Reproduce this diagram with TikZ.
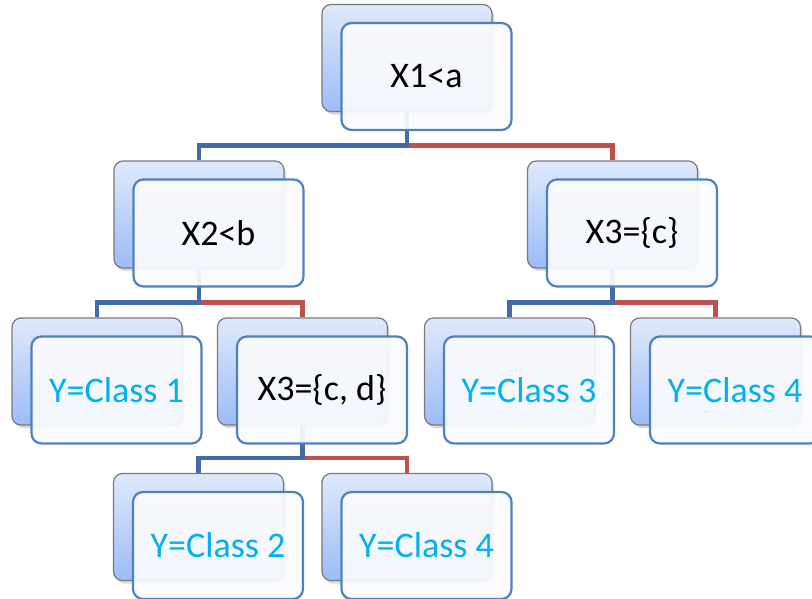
\documentclass[tikz,border=0pt]{standalone}
\usepackage{fontspec}
\setmainfont{Carlito}
\usetikzlibrary{calc,shadows}
\pgfdeclarelayer{background}
\pgfsetlayers{background,main}
\definecolor{lineblue}{RGB}{68,106,168}
\definecolor{linered}{RGB}{192,80,77}
\definecolor{frontborder}{RGB}{79,129,189}
\definecolor{frontfill}{RGB}{250,251,254}
\definecolor{backtop}{RGB}{224,233,251}
\definecolor{backbot}{RGB}{156,188,247}
\definecolor{backborder}{RGB}{122,122,122}
\definecolor{classcyan}{RGB}{0,176,240}
\tikzset{
  backbox/.style={rectangle, rounded corners=9pt, minimum width=170pt, minimum height=107pt,
    inner sep=0pt, draw=backborder, line width=1.2pt, top color=backtop, bottom color=backbot,
    drop shadow={opacity=0.3, shadow xshift=2pt, shadow yshift=-3pt}},
  frontbox/.style={rectangle, rounded corners=10pt, minimum width=170pt, minimum height=107pt,
    inner sep=0pt, draw=frontborder, line width=2.2pt, fill=frontfill, fill opacity=0.93,
    text opacity=1, font=\fontsize{36}{40}\selectfont},
  blueline/.style={draw=lineblue, line width=4.5pt},
  redline/.style={draw=linered, line width=4.5pt},
}
\newcommand\tnode[5]{%
  \node[backbox] (#1-b) at (#2,#3) {};
  \node[frontbox, text=#5] (#1) at ($(#1-b)+(19.5,18.5)$) {#4};
}
\newcommand\tsplit[3]{%
  \coordinate (#1-bus) at ($(#1-b.south |- #2-b.north)+(0,-15)$);
  \begin{pgfonlayer}{background}
  \draw[redline] (#1-bus) -| (#3-b.north);
  \draw[blueline] (#1-b.south) -- (#1-bus) -| (#2-b.north);
  \end{pgfonlayer}
}
\begin{document}
\begin{tikzpicture}[x=1pt,y=-1pt]
\useasboundingbox (0,0) rectangle (812,598);
\tnode{root}{407}{58}{X1<a}{black}
\tnode{xb}{199}{214.5}{X2<b}{black}
\tnode{xc}{612.5}{214.5}{X3=\{c\}}{black}
\tnode{cone}{97}{371.5}{Y=Class 1}{classcyan}
\tnode{xcd}{302.5}{371.5}{X3=\{c, d\}}{black}
\tnode{cthree}{509.5}{371.5}{Y=Class 3}{classcyan}
\tnode{cfourr}{715.5}{371.5}{Y=Class 4}{classcyan}
\tnode{ctwo}{198.5}{527}{Y=Class 2}{classcyan}
\tnode{cfourb}{407}{527}{Y=Class 4}{classcyan}
\tsplit{root}{xb}{xc}
\tsplit{xb}{cone}{xcd}
\tsplit{xc}{cthree}{cfourr}
\tsplit{xcd}{ctwo}{cfourb}
\end{tikzpicture}
\end{document}
